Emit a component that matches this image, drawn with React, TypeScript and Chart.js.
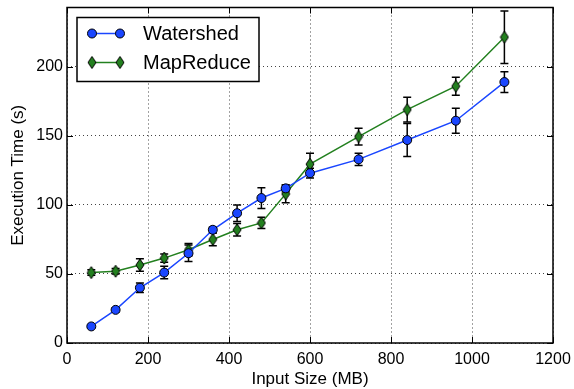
import React, { useEffect, useRef } from "react";
import { Chart, registerables } from "chart.js";

Chart.register(...registerables);

const INPUT_SIZES = [60, 120, 180, 240, 300, 360, 420, 480, 540, 600, 720, 840, 960, 1080];
const WATERSHED = [12, 24, 40, 51, 65, 82, 94, 105, 112, 123, 133, 147, 161, 189];
const WATERSHED_ERR = [1, 1.5, 3.5, 4.5, 6, 2, 6, 7.5, 2.5, 3.5, 4.5, 12, 9, 7.5];
const MAPREDUCE = [51, 52, 56.5, 61.5, 67.5, 75, 82, 87, 108, 129.5, 149.5, 169, 186, 221.5];
const MAPREDUCE_ERR = [2, 2, 4.5, 3, 4.5, 4.5, 4.5, 4, 6.5, 8, 6, 9, 6.5, 19];
const X_TICKS = [0, 200, 400, 600, 800, 1000, 1200];
const Y_TICKS = [0, 50, 100, 150, 200];
const SERIES_NAMES = ["Watershed", "MapReduce"];
const X_TITLE = "Input Size (MB)";
const Y_TITLE = "Execution Time (s)";

const FONT = "'Liberation Sans', Arial, sans-serif";
const BLUE = "#1a46ff";
const GREEN = "#23801f";

function makeDiamond(): HTMLCanvasElement {
  const c = document.createElement("canvas");
  c.width = 10;
  c.height = 14;
  const g = c.getContext("2d")!;
  g.beginPath();
  g.moveTo(5, 1);
  g.lineTo(9, 7);
  g.lineTo(5, 13);
  g.lineTo(1, 7);
  g.closePath();
  g.fillStyle = GREEN;
  g.fill();
  g.strokeStyle = "#000";
  g.lineWidth = 1;
  g.stroke();
  return c;
}

export default function App() {
  const ref = useRef<HTMLCanvasElement | null>(null);

  useEffect(() => {
    const canvas = ref.current;
    if (!canvas) return;
    const diamond = makeDiamond();
    const errs = [WATERSHED_ERR, MAPREDUCE_ERR];
    const vals = [WATERSHED, MAPREDUCE];

    const errorBars = {
      id: "errorBars",
      beforeDatasetsDraw(chart: any) {
        const ctx = chart.ctx;
        const ys = chart.scales.y;
        ctx.save();
        ctx.strokeStyle = "#000";
        ctx.lineWidth = 1.5;
        for (let d = 0; d < 2; d++) {
          const meta = chart.getDatasetMeta(d);
          meta.data.forEach((pt: any, i: number) => {
            const x = pt.x;
            const t = ys.getPixelForValue(vals[d][i] + errs[d][i]);
            const b = ys.getPixelForValue(vals[d][i] - errs[d][i]);
            ctx.beginPath();
            ctx.moveTo(x, t);
            ctx.lineTo(x, b);
            ctx.moveTo(x - 4, t);
            ctx.lineTo(x + 4, t);
            ctx.moveTo(x - 4, b);
            ctx.lineTo(x + 4, b);
            ctx.stroke();
          });
        }
        ctx.restore();
      },
    };

    const frame = {
      id: "frameAndLegend",
      afterDraw(chart: any) {
        const ctx = chart.ctx;
        const a = chart.chartArea;
        const xs = chart.scales.x;
        const ys = chart.scales.y;
        ctx.save();
        ctx.strokeStyle = "#000";
        ctx.lineWidth = 1;
        ctx.beginPath();
        X_TICKS.forEach((v) => {
          const px = Math.round(xs.getPixelForValue(v)) + 0.5;
          ctx.moveTo(px, a.bottom);
          ctx.lineTo(px, a.bottom - 6);
          ctx.moveTo(px, a.top);
          ctx.lineTo(px, a.top + 6);
        });
        Y_TICKS.forEach((v) => {
          const py = Math.round(ys.getPixelForValue(v)) + 0.5;
          ctx.moveTo(a.left, py);
          ctx.lineTo(a.left + 6, py);
          ctx.moveTo(a.right, py);
          ctx.lineTo(a.right - 6, py);
        });
        ctx.stroke();
        ctx.lineWidth = 1.5;
        ctx.strokeRect(a.left, a.top, a.right - a.left, a.bottom - a.top);

        const lx = a.left + 10;
        const ly = a.top + 10;
        const lw = 182;
        const lh = 64;
        ctx.fillStyle = "#fff";
        ctx.fillRect(lx, ly, lw, lh);
        ctx.lineWidth = 1.5;
        ctx.strokeStyle = "#000";
        ctx.strokeRect(lx, ly, lw, lh);
        const rows = [ly + 16, ly + 45];
        const colors = [BLUE, GREEN];
        for (let r = 0; r < 2; r++) {
          const y = rows[r];
          const m1 = lx + 15;
          const m2 = lx + 43;
          ctx.strokeStyle = colors[r];
          ctx.lineWidth = 1.5;
          ctx.beginPath();
          ctx.moveTo(m1, y);
          ctx.lineTo(m2, y);
          ctx.stroke();
          [m1, m2].forEach((mx) => {
            if (r === 0) {
              ctx.beginPath();
              ctx.arc(mx, y, 4.5, 0, Math.PI * 2);
              ctx.fillStyle = BLUE;
              ctx.fill();
              ctx.strokeStyle = "#000";
              ctx.lineWidth = 1;
              ctx.stroke();
            } else {
              ctx.drawImage(diamond, mx - 5, y - 7);
            }
          });
          ctx.fillStyle = "#000";
          ctx.font = `20px ${FONT}`;
          ctx.textBaseline = "middle";
          ctx.textAlign = "left";
          ctx.fillText(SERIES_NAMES[r], lx + 66, y + 1);
        }
        ctx.restore();
      },
    };

    const noPad = (s: any) => {
      s.paddingTop = 0;
      s.paddingBottom = 0;
      s.paddingLeft = 0;
      s.paddingRight = 0;
    };

    const chart = new Chart(canvas, {
      type: "line",
      data: {
        datasets: [
          {
            label: SERIES_NAMES[0],
            data: INPUT_SIZES.map((x, i) => ({ x, y: WATERSHED[i] })),
            borderColor: BLUE,
            backgroundColor: BLUE,
            borderWidth: 1.5,
            pointRadius: 4.5,
            pointBorderColor: "#000",
            pointBorderWidth: 1,
            pointBackgroundColor: BLUE,
            tension: 0,
          },
          {
            label: SERIES_NAMES[1],
            data: INPUT_SIZES.map((x, i) => ({ x, y: MAPREDUCE[i] })),
            borderColor: GREEN,
            backgroundColor: GREEN,
            borderWidth: 1.5,
            pointStyle: diamond as any,
            pointRadius: 6,
            tension: 0,
          },
        ],
      },
      options: {
        animation: false,
        responsive: false,
        maintainAspectRatio: false,
        layout: { padding: { left: 0, right: 21, top: 5, bottom: 0 } },
        plugins: { legend: { display: false }, tooltip: { enabled: false } },
        scales: {
          x: {
            type: "linear",
            min: 0,
            max: 1200,
            afterBuildTicks: (s: any) => {
              s.ticks = X_TICKS.map((v) => ({ value: v }));
            },
            afterFit: (s: any) => {
              s.height = 46;
              noPad(s);
            },
            grid: { color: "#444", lineWidth: 1, drawTicks: false },
            border: { display: false, dash: [1, 3] },
            ticks: {
              color: "#000",
              font: { family: FONT, size: 16 },
              padding: 7,
              maxRotation: 0,
              callback: (v: any) => String(v),
            },
            title: {
              display: true,
              text: X_TITLE,
              color: "#000",
              font: { family: FONT, size: 17 },
              padding: { top: 0, bottom: -1 },
            },
          },
          y: {
            type: "linear",
            min: 0,
            max: 243,
            afterBuildTicks: (s: any) => {
              s.ticks = Y_TICKS.map((v) => ({ value: v }));
            },
            afterFit: (s: any) => {
              s.width = 67;
              noPad(s);
            },
            grid: { color: "#444", lineWidth: 1, drawTicks: false },
            border: { display: false, dash: [1, 3] },
            ticks: {
              color: "#000",
              font: { family: FONT, size: 16 },
              padding: 4,
              callback: (v: any) => String(v),
            },
            title: {
              display: true,
              text: Y_TITLE,
              color: "#000",
              font: { family: FONT, size: 17 },
              padding: { top: 8, bottom: 0 },
            },
          },
        },
      },
      plugins: [errorBars, frame],
    });
    return () => chart.destroy();
  }, []);

  return (
    <div style={{ position: "absolute", left: 0, top: 0, width: 574, height: 389, background: "#fff" }}>
      <canvas ref={ref} width={574} height={389} style={{ display: "block" }} />
    </div>
  );
}
